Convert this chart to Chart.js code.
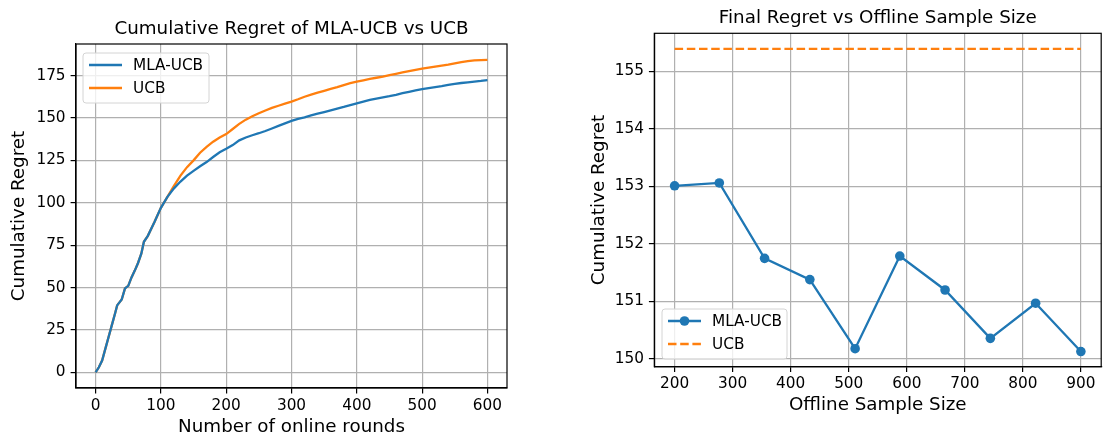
<!DOCTYPE html>
<html><head><meta charset="utf-8">
<script src="https://cdn.jsdelivr.net/npm/chart.js@4"></script>
<style>
html,body{margin:0;padding:0;background:#fff;overflow:hidden;width:1106px;height:436px;}
#c1{position:absolute;left:0;top:0;}
#c2{position:absolute;left:580px;top:0;}
</style></head><body>
<canvas id="c1" width="520" height="438" style="width:520px;height:438px"></canvas>
<canvas id="c2" width="526" height="438" style="width:526px;height:438px"></canvas>
<script>
// ---- Left chart data ----
const rounds = [0,5,10,15,20,25,30,33,40,45,50,55,60,65,70,74,80,90,100,110,
  120,130,140,150,160,170,180,190,200,210,220,230,240,250,260,270,280,290,
  300,310,320,330,340,350,360,370,380,390,400,410,420,430,440,450,460,470,
  480,490,500,510,520,530,540,550,560,570,580,590,600];
const regretMLA = [0,3,7,14,21,28,35,39.5,43,49.5,51,56,60,64.5,70,77,80.5,88.5,97,103.5,
  108.5,112.5,116,118.8,121.5,124,127,129.8,131.8,134,136.8,138.5,139.8,141,142.3,143.8,145.3,146.8,
  148.3,149.5,150.3,151.5,152.5,153.5,154.5,155.5,156.5,157.6,158.6,159.6,160.6,161.4,162.1,162.8,163.6,164.6,
  165.4,166.2,167,167.6,168.2,168.8,169.5,170.1,170.6,171,171.4,171.8,172.3];
const regretUCB = [0,3,7,14,21,28,35,39.5,43,49.5,51,56,60,64.5,70,77,80.5,88.5,97,103.5,
  110,116,121,125,129.5,133,136,138.5,140.5,143.5,146.5,149,151,152.8,154.4,155.9,157.2,158.4,
  159.6,161,162.5,163.7,164.9,166,167.1,168.2,169.4,170.5,171.4,172.2,173,173.7,174.4,175.2,176,176.8,
  177.6,178.4,179.1,179.7,180.3,180.9,181.5,182.2,182.9,183.5,183.9,184.1,184.3];
const roundTicks = [0,100,200,300,400,500,600];
const regretTicks = [0,25,50,75,100,125,150,175];

// ---- Right chart data ----
const sampleSizes = [200,277,355,433,511,588,666,744,822,900];
const finalMLA = [153.01,153.06,151.75,151.38,150.18,151.79,151.20,150.36,150.97,150.13];
const finalUCB = 155.39;
const sizeTicks = [200,300,400,500,600,700,800,900];
const finalTicks = [150,151,152,153,154,155];

const BLUE = '#1f77b4', ORANGE = '#ff7f0e';
const TICK_PX = 15.3, LABEL_PX = 18.3, LW = 2.3;
Chart.defaults.font.family = 'DejaVu Sans';
Chart.defaults.color = '#000';
Chart.defaults.animation = false;

const framePlugin = {
  id: 'frame',
  afterDatasetsDraw(chart) {
    const {ctx, chartArea: a} = chart;
    ctx.save();
    ctx.strokeStyle = '#000';
    ctx.lineWidth = 1.2;
    ctx.strokeRect(a.left, a.top, a.right - a.left, a.bottom - a.top);
    ctx.restore();
  }
};

// title centred over the plot area (as matplotlib does)
const areaTitlePlugin = {
  id: 'areaTitle',
  afterDraw(chart, args, opts) {
    const {ctx, chartArea: a} = chart;
    ctx.save();
    ctx.fillStyle = '#000';
    ctx.font = LABEL_PX + 'px "DejaVu Sans"';
    ctx.textAlign = 'center';
    ctx.textBaseline = 'middle';
    ctx.fillText(opts.text, (a.left + a.right) / 2, opts.y);
    ctx.restore();
  }
};

const legendPlugin = {
  id: 'insideLegend',
  afterDraw(chart, args, opts) {
    const {ctx, chartArea: a} = chart;
    const w = opts.w, h = 50;
    const x = a.left + opts.dx;
    const y = opts.anchor === 'top' ? a.top + opts.dy : a.bottom - opts.dy - h;
    ctx.save();
    const r = 3;
    ctx.beginPath();
    ctx.moveTo(x + r, y);
    ctx.lineTo(x + w - r, y); ctx.quadraticCurveTo(x + w, y, x + w, y + r);
    ctx.lineTo(x + w, y + h - r); ctx.quadraticCurveTo(x + w, y + h, x + w - r, y + h);
    ctx.lineTo(x + r, y + h); ctx.quadraticCurveTo(x, y + h, x, y + h - r);
    ctx.lineTo(x, y + r); ctx.quadraticCurveTo(x, y, x + r, y);
    ctx.closePath();
    ctx.fillStyle = 'rgba(255,255,255,0.8)';
    ctx.fill();
    ctx.strokeStyle = '#d4d4d4';
    ctx.lineWidth = 1;
    ctx.stroke();
    const rows = [12, 35];
    chart.data.datasets.forEach((ds, i) => {
      const ry = y + rows[i];
      ctx.beginPath();
      ctx.setLineDash(ds.borderDash || []);
      ctx.strokeStyle = ds.borderColor;
      ctx.lineWidth = ds.borderWidth;
      ctx.moveTo(x + 6, ry); ctx.lineTo(x + 39, ry);
      ctx.stroke();
      ctx.setLineDash([]);
      if (ds.pointRadius && ds.pointRadius > 0) {
        ctx.beginPath();
        ctx.fillStyle = ds.borderColor;
        ctx.arc(x + 22.5, ry, ds.pointRadius, 0, Math.PI * 2);
        ctx.fill();
      }
      ctx.fillStyle = '#000';
      ctx.font = TICK_PX + 'px "DejaVu Sans"';
      ctx.textBaseline = 'middle';
      ctx.textAlign = 'left';
      ctx.fillText(ds.label, x + 50, ry + 1);
    });
    ctx.restore();
  }
};

function axis(ticks, min, max, fitKey, fitVal, title, titlePad, tickPad) {
  return {
    type: 'linear', min, max,
    afterBuildTicks: s => { s.ticks = ticks.map(v => ({value: v})); },
    afterFit: s => { s[fitKey] = fitVal; },
    grid: {color: '#b0b0b0', lineWidth: 1.2, tickColor: '#000', tickLength: 5.4, tickWidth: 1.2, drawTicks: true},
    border: {display: true, color: '#000', width: 1.2},
    ticks: {font: {size: TICK_PX}, color: '#000', padding: tickPad, autoSkip: false, maxRotation: 0,
            callback: v => String(v)},
    title: {display: true, text: title, font: {size: LABEL_PX}, color: '#000', padding: titlePad}
  };
}

new Chart(document.getElementById('c1'), {
  type: 'line',
  data: {
    datasets: [
      {label: 'MLA-UCB', data: rounds.map((r, i) => ({x: r, y: regretMLA[i]})),
       borderColor: BLUE, backgroundColor: BLUE, borderWidth: LW, pointRadius: 0, tension: 0},
      {label: 'UCB', data: rounds.map((r, i) => ({x: r, y: regretUCB[i]})),
       borderColor: ORANGE, backgroundColor: ORANGE, borderWidth: LW, pointRadius: 0, tension: 0}
    ]
  },
  options: {
    responsive: false,
    layout: {padding: {left: 0, right: 13, top: 44, bottom: 0}},
    scales: {
      x: axis(roundTicks, -30, 630, 'height', 50, 'Number of online rounds', {top: 0, bottom: 0}, 3),
      y: axis(regretTicks, -9.2, 193.6, 'width', 76, 'Cumulative Regret', {top: 8.5, bottom: 0}, 5)
    },
    plugins: {
      legend: {display: false},
      tooltip: {enabled: false},
      title: {display: false},
      areaTitle: {text: 'Cumulative Regret of MLA-UCB vs UCB', y: 29},
      insideLegend: {dx: 7, dy: 9, anchor: 'top', w: 126}
    }
  },
  plugins: [framePlugin, legendPlugin, areaTitlePlugin]
});

new Chart(document.getElementById('c2'), {
  type: 'line',
  data: {
    datasets: [
      {label: 'MLA-UCB', data: sampleSizes.map((s, i) => ({x: s, y: finalMLA[i]})),
       borderColor: BLUE, backgroundColor: BLUE, borderWidth: LW, pointRadius: 4.8,
       pointBorderWidth: 0, pointBackgroundColor: BLUE, tension: 0},
      {label: 'UCB', data: [{x: sampleSizes[0], y: finalUCB}, {x: sampleSizes[sampleSizes.length - 1], y: finalUCB}],
       borderColor: ORANGE, backgroundColor: ORANGE, borderWidth: LW, pointRadius: 0, borderDash: [8.5, 3.7], tension: 0}
    ]
  },
  options: {
    responsive: false,
    layout: {padding: {left: 0, right: 4, top: 33.3, bottom: 0}},
    scales: {
      x: axis(sizeTicks, 165, 935, 'height', 71.3, 'Offline Sample Size', {top: 0, bottom: 22}, 3),
      y: axis(finalTicks, 149.867, 155.66, 'width', 74.3, 'Cumulative Regret', {top: 8.5, bottom: 0}, 5)
    },
    plugins: {
      legend: {display: false},
      tooltip: {enabled: false},
      title: {display: false},
      areaTitle: {text: 'Final Regret vs Offline Sample Size', y: 18},
      insideLegend: {dx: 7.7, dy: 7.7, anchor: 'bottom', w: 125}
    }
  },
  plugins: [framePlugin, legendPlugin, areaTitlePlugin]
});
</script>
</body></html>
